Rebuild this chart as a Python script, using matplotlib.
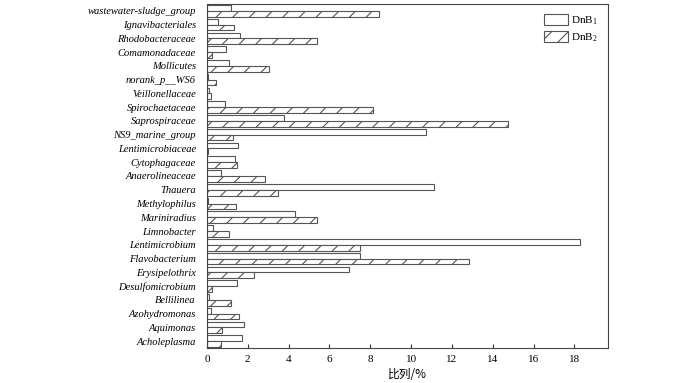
import numpy as np
import matplotlib
matplotlib.use("Agg")
import matplotlib.pyplot as plt

plt.rcParams["font.family"] = ["Liberation Serif", "Noto Sans CJK SC"]
plt.rcParams["mathtext.fontset"] = "custom"
plt.rcParams["mathtext.rm"] = "Liberation Serif"
plt.rcParams["hatch.linewidth"] = 0.8

# bottom to top
genera = [
    "Acholeplasma", "Aquimonas", "Azohydromonas", "Bellilinea", "Desulfomicrobium",
    "Erysipelothrix", "Flavobacterium", "Lentimicrobium", "Limnobacter", "Mariniradius",
    "Methylophilus", "Thauera", "Anaerolineaceae", "Cytophagaceae", "Lentimicrobiaceae",
    "NS9_marine_group", "Saprospiraceae", "Spirochaetaceae", "Veillonellaceae",
    "norank_p__WS6", "Mollicutes", "Comamonadaceae", "Rhodobacteraceae",
    "Ignavibacteriales", "wastewater-sludge_group",
]
dnb1 = [1.7, 1.8, 0.18, 0.08, 1.45, 6.95, 7.5, 18.3, 0.3, 4.3,
        0.03, 11.1, 0.7, 1.35, 1.5, 10.75, 3.75, 0.9, 0.08,
        0.05, 1.1, 0.95, 1.6, 0.55, 1.2]
dnb2 = [0.7, 0.75, 1.55, 1.2, 0.25, 2.3, 12.85, 7.5, 1.1, 5.4,
        1.4, 3.5, 2.85, 1.45, 0.05, 1.25, 14.75, 8.15, 0.2,
        0.45, 3.05, 0.25, 5.4, 1.3, 8.45]

y = np.arange(len(genera))
h = 0.42
edge = "#555555"

fig = plt.figure(figsize=(7, 3.83), dpi=100)
ax = fig.add_axes([0.2957, 0.0914, 0.5729, 0.8982])

ax.barh(y + h / 2, dnb1, height=h, color="white", edgecolor=edge, linewidth=0.8,
        label="DnB$_1$")
ax.barh(y - h / 2, dnb2, height=h, color="white", edgecolor=edge, linewidth=0.8,
        hatch="//", label="DnB$_2$")

ax.set_xlim(0, 19.65)
ax.set_ylim(-0.5, len(genera) - 0.5)
ax.set_xticks(np.arange(0, 19, 2))
ax.set_yticks(y)
ax.set_yticklabels(genera, fontstyle="italic", fontsize=7.6)
ax.tick_params(axis="y", length=0, pad=8)
ax.tick_params(axis="x", direction="in", length=3, labelsize=8, pad=5, color="#333333")
ax.set_xlabel("比列/%", fontsize=8.5, family=["Noto Sans CJK SC"], labelpad=3)

for s in ax.spines.values():
    s.set_color("#444444")
    s.set_linewidth(0.8)

ax.legend(loc="upper right", frameon=False, fontsize=8, handlelength=2.2,
          handleheight=1.2, handletextpad=0.3, borderaxespad=0.5, labelspacing=0.3)

fig.savefig("out.png", dpi=100)
